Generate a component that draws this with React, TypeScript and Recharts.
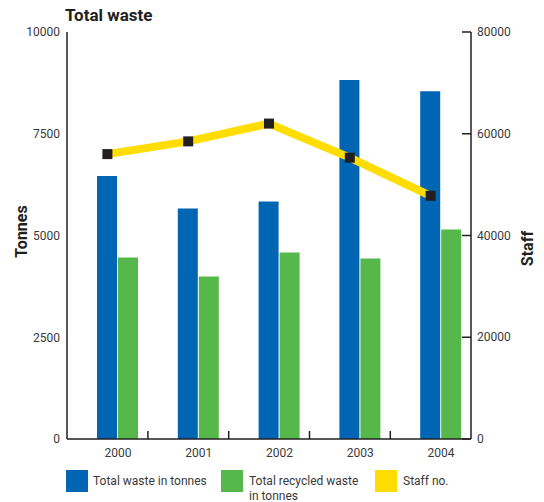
import {
  ComposedChart,
  Bar,
  Line,
  XAxis,
  YAxis,
} from 'recharts';

const years = ['2000', '2001', '2002', '2003', '2004'];
const totalWaste = [6460, 5665, 5837, 8818, 8547];
const recycledWaste = [4458, 3990, 4581, 4433, 5148];
const staff = [56000, 58500, 62000, 55300, 47800];

const tonnesTicks = [0, 2500, 5000, 7500, 10000];
const staffTicks = [0, 20000, 40000, 60000, 80000];

const BLUE = '#0066b3';
const GREEN = '#56b84a';
const YELLOW = '#ffdd00';
const INK = '#231f20';
const TEXT = '#3a3a3a';
const FONT = 'Roboto, "Open Sans", sans-serif';

// band width of the category axis (plot width 404 / 5 years)
const BAND = 81;

const data = years.map((year, i) => ({
  year,
  waste: totalWaste[i],
  recycled: recycledWaste[i],
  staff: staff[i],
}));

const legendItems = [
  { label: ['Total waste in tonnes'], color: BLUE, left: 66, textLeft: 93 },
  { label: ['Total recycled waste', 'in tonnes'], color: GREEN, left: 221, textLeft: 249 },
  { label: ['Staff no.'], color: YELLOW, left: 375, textLeft: 403 },
];

function YearTick(props: any) {
  const { x, y, payload, index } = props;
  return (
    <g>
      <text x={x + 10.5} y={y + 18} textAnchor="middle" fontSize={12} fill={TEXT} fontFamily={FONT}>
        {payload.value}
      </text>
      {index < years.length - 1 && (
        <line x1={x + BAND / 2} x2={x + BAND / 2} y1={y} y2={y - 8} stroke={INK} strokeWidth={1.5} />
      )}
    </g>
  );
}

function StaffTick(props: any) {
  const { x, y, payload } = props;
  return (
    <g>
      <line x1={x - 9} x2={x} y1={y} y2={y} stroke={INK} strokeWidth={1.5} />
      <text x={x + 6} y={y} dy="0.35em" fontSize={12} fill={TEXT} fontFamily={FONT}>
        {payload.value}
      </text>
    </g>
  );
}

function AxisTitle(props: any) {
  const { viewBox, value, dx = 0, dy = 0 } = props;
  const cx = viewBox.x + viewBox.width / 2 + dx;
  const cy = viewBox.y + viewBox.height / 2 + dy;
  return (
    <text
      x={cx}
      y={cy}
      transform={`rotate(-90 ${cx} ${cy})`}
      textAnchor="middle"
      dominantBaseline="central"
      fontSize={16}
      fontWeight="bold"
      fill={INK}
      fontFamily={FONT}
    >
      {value}
    </text>
  );
}

function SquareDot(props: any) {
  const { cx, cy } = props;
  return <rect x={cx - 5} y={cy - 5} width={10} height={10} fill={INK} />;
}

export default function App() {
  return (
    <div style={{ position: 'absolute', left: 0, top: 0, width: 544, height: 502, fontFamily: FONT, background: '#fff' }}>
      <div style={{ position: 'absolute', left: 65, top: 3, fontSize: 17, fontWeight: 'bold', color: INK, lineHeight: '24px' }}>
        Total waste
      </div>

      <ComposedChart
        width={544}
        height={502}
        data={data}
        margin={{ top: 32, right: 0, bottom: 33, left: 0 }}
        barGap={1}
      >
        <XAxis
          dataKey="year"
          height={30}
          tickSize={0}
          tickMargin={0}
          tickLine={false}
          axisLine={{ stroke: INK, strokeWidth: 1.5 }}
          tick={<YearTick />}
        />
        <YAxis
          yAxisId="left"
          width={67}
          domain={[0, 10000]}
          ticks={tonnesTicks}
          tickSize={0}
          tickMargin={7}
          tickLine={false}
          axisLine={{ stroke: INK, strokeWidth: 1.5 }}
          tick={{ fontSize: 12, fill: TEXT, fontFamily: FONT }}
          label={<AxisTitle value="Tonnes" dx={-12} dy={-4} />}
        />
        <YAxis
          yAxisId="right"
          orientation="right"
          width={73}
          domain={[0, 80000]}
          ticks={staffTicks}
          tickSize={0}
          tickMargin={0}
          tickLine={false}
          axisLine={{ stroke: INK, strokeWidth: 1.5 }}
          tick={<StaffTick />}
          label={<AxisTitle value="Staff" dx={20} dy={13} />}
        />
        {/* empty slot so the bar pair sits right of the band centre */}
        <Bar yAxisId="left" dataKey={() => 0} fill="none" barSize={20} isAnimationActive={false} />
        <Bar yAxisId="left" dataKey="waste" fill={BLUE} barSize={20} isAnimationActive={false} />
        <Bar yAxisId="left" dataKey="recycled" fill={GREEN} barSize={20} isAnimationActive={false} />
        <Line
          yAxisId="right"
          dataKey="staff"
          stroke={YELLOW}
          strokeWidth={8}
          dot={<SquareDot />}
          activeDot={false}
          isAnimationActive={false}
        />
      </ComposedChart>

      {legendItems.map((item) => (
        <div key={item.label[0]}>
          <div
            style={{
              position: 'absolute',
              left: item.left,
              top: 470,
              width: 22,
              height: 22,
              background: item.color,
            }}
          />
          <div
            style={{
              position: 'absolute',
              left: item.textLeft,
              top: 474,
              fontSize: 12,
              lineHeight: '15px',
              color: TEXT,
            }}
          >
            {item.label.map((line) => (
              <div key={line}>{line}</div>
            ))}
          </div>
        </div>
      ))}
    </div>
  );
}
